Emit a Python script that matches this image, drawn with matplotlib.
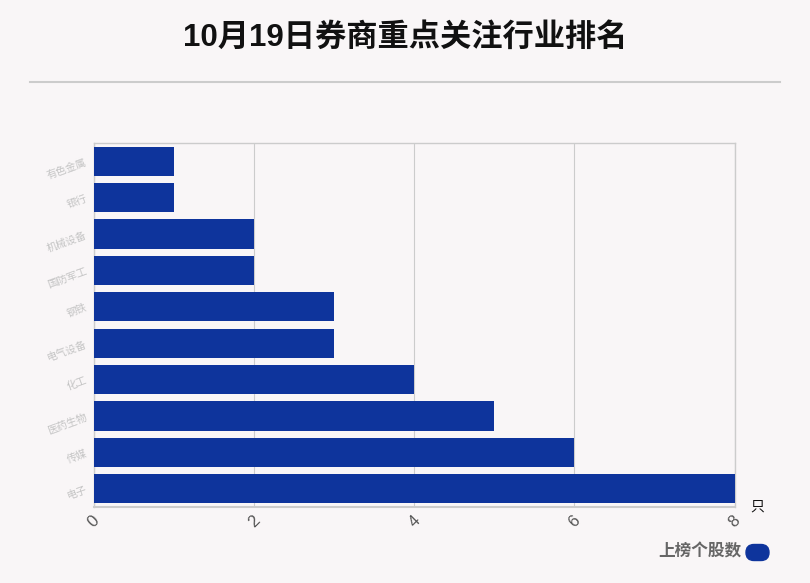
import matplotlib.pyplot as plt
from matplotlib.lines import Line2D
from matplotlib.patches import FancyBboxPatch

plt.rcParams['font.family'] = ['Liberation Sans', 'Noto Sans CJK SC', 'DejaVu Sans']

industries = ['有色金属', '银行', '机械设备', '国防军工', '钢铁', '电气设备', '化工', '医药生物', '传媒', '电子']
counts = [1, 1, 2, 2, 3, 3, 4, 5, 6, 8]
xticks = [0, 2, 4, 6, 8]

bg = '#f9f6f7'
bar_color = '#0e349c'

fig = plt.figure(figsize=(8.1, 5.83), dpi=100, facecolor=bg)
ax = fig.add_axes([0.116, 0.1304, 0.791, 0.6243], facecolor=bg)

ypos = list(range(len(industries)))
ax.barh(ypos, counts, height=0.8, color=bar_color, zorder=3)
ax.set_ylim(len(industries) - 0.5, -0.5)
ax.set_xlim(0, 8)

ax.set_xticks(xticks)
ax.set_xticklabels([str(v) for v in xticks], rotation=45, fontsize=12, color='#555555')
ax.set_yticks(ypos)
ax.set_yticklabels(industries, rotation=20, fontsize=7.5, color='#c4c4c4')
ax.tick_params(axis='both', length=0, pad=4)
ax.grid(axis='x', color='#cccccc', linewidth=0.8, zorder=0)
for s in ax.spines.values():
    s.set_color('#cccccc')
    s.set_linewidth(1)
ax.spines['bottom'].set_linewidth(1.5)

fig.text(0.5, 1 - 38 / 583, '10月19日券商重点关注行业排名', ha='center', va='center',
         fontsize=22.5, fontweight='bold', color='#111111')
fig.add_artist(Line2D([30 / 810, 780 / 810], [1 - 82 / 583, 1 - 82 / 583],
                      color='#cccccc', linewidth=1.5))
fig.text(757 / 810, 1 - 507 / 583, '只', ha='center', va='center', fontsize=10, color='#111111')

fig.text(741 / 810, 1 - 551 / 583, '上榜个股数', ha='right', va='center',
         fontsize=12, fontweight='bold', color='#666666')
fig.add_artist(FancyBboxPatch((7.46, 0.225), 0.23, 0.16,
                              boxstyle='round,pad=0,rounding_size=0.08',
                              transform=fig.dpi_scale_trans,
                              facecolor=bar_color, edgecolor=bar_color))

fig.savefig('out.png', dpi=100, facecolor=bg)
